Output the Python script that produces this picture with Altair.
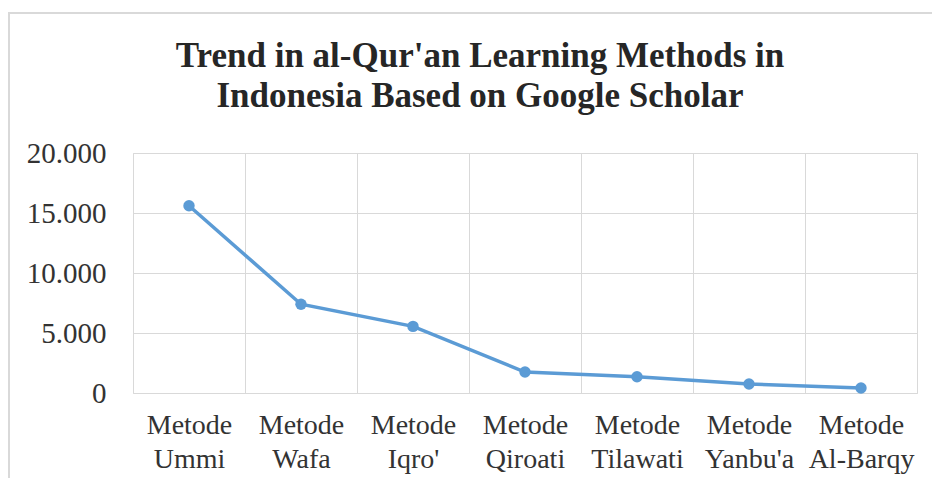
import altair as alt
import pandas as pd

categories = ["Metode Ummi", "Metode Wafa", "Metode Iqro'", "Metode Qiroati",
              "Metode Tilawati", "Metode Yanbu'a", "Metode Al-Barqy"]
values = [15600, 7400, 5550, 1750, 1350, 750, 420]
y_ticks = [0, 5000, 10000, 15000, 20000]
title_lines = ["Trend in al-Qur'an  Learning  Methods in", "Indonesia  Based on Google Scholar"]

df = pd.DataFrame({"method": categories, "count": values})

FONT = "Liberation Serif"
BLUE = "#5b9bd5"

x_enc = alt.X("method:N", sort=None,
              scale=alt.Scale(type="band", paddingInner=0, paddingOuter=0),
              axis=alt.Axis(title=None, labelAngle=0, ticks=False, domain=False,
                            grid=True, tickBand="extent", gridColor="#d9d9d9",
                            labelExpr="split(datum.label, ' ')",
                            labelFont=FONT, labelFontSize=28, labelColor="#333333",
                            labelLineHeight=34, labelPadding=18, labelBaseline="top"))
y_enc = alt.Y("count:Q", scale=alt.Scale(domain=[0, 20000], nice=False),
              axis=alt.Axis(title=None, values=y_ticks, ticks=False, domain=False,
                            gridColor="#d9d9d9",
                            labelExpr="replace(format(datum.value, ','), ',', '.')",
                            labelFont=FONT, labelFontSize=29, labelColor="#333333",
                            labelPadding=27))

line = alt.Chart(df).mark_line(color=BLUE, strokeWidth=3.5).encode(x=x_enc, y=y_enc)
pts = alt.Chart(df).mark_point(color=BLUE, filled=True, size=130, opacity=1).encode(
    x=alt.X("method:N", sort=None), y="count:Q")

border = alt.Chart(pd.DataFrame({"a": [0]})).mark_rect(
    fillOpacity=0, stroke="#d9d9d9", strokeWidth=2).encode(
    x=alt.value(-124), x2=alt.value(900), y=alt.value(-140), y2=alt.value(420))

one = pd.DataFrame({"a": [0]})
title1 = alt.Chart(one).mark_text(
    text=title_lines[0], font=FONT, fontSize=35, fontWeight="bold", color="#262626",
    align="center", baseline="alphabetic").encode(x=alt.value(347), y=alt.value(-86))
title2 = alt.Chart(one).mark_text(
    text=title_lines[1], font=FONT, fontSize=35, fontWeight="bold", color="#262626",
    align="center", baseline="alphabetic").encode(x=alt.value(347), y=alt.value(-46))

chart = alt.layer(border, line, pts, title1, title2).properties(
    width=784, height=240,
    autosize=alt.AutoSizeParams(type="none"),
    padding={"left": 125, "top": 145, "right": 15, "bottom": 85},
).configure_view(stroke="#d0d0d0", strokeWidth=1.5).configure(background="white")

chart.save("out.html", embed_options={"renderer": "svg", "actions": False})
